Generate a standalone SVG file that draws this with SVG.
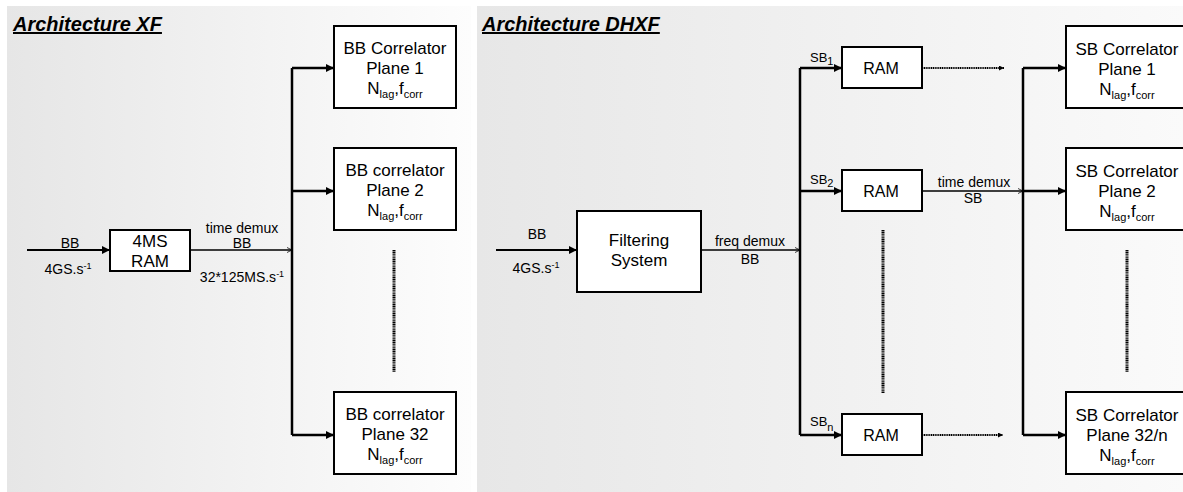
<svg xmlns="http://www.w3.org/2000/svg" width="1183" height="492" viewBox="0 0 1183 492">
<defs>
<linearGradient id="gl" x1="0" y1="0" x2="1" y2="0"><stop offset="0" stop-color="#e6e6e6"/><stop offset="1" stop-color="#fdfdfd"/></linearGradient>
<linearGradient id="gr" x1="0" y1="0" x2="1" y2="0"><stop offset="0" stop-color="#e7e7e7"/><stop offset="1" stop-color="#fafafa"/></linearGradient>
<marker id="ah" viewBox="0 0 10 10" refX="10" refY="5" markerWidth="9" markerHeight="8" markerUnits="userSpaceOnUse" orient="auto"><path d="M0,0 L10,5 L0,10 z" fill="#000"/></marker>
<marker id="ao" viewBox="0 0 10 10" refX="10" refY="5" markerWidth="5" markerHeight="6" markerUnits="userSpaceOnUse" orient="auto"><path d="M0,0 L10,5 L0,10" fill="none" stroke="#000" stroke-width="1.5"/></marker>
<marker id="ad" viewBox="0 0 10 10" refX="10" refY="5" markerWidth="6" markerHeight="5" markerUnits="userSpaceOnUse" orient="auto"><path d="M0,0 L10,5 L0,10 z" fill="#000"/></marker>
</defs>
<style>
text{font-family:"Liberation Sans",Arial,sans-serif;fill:#000}
.title{font-size:20px;font-weight:bold;font-style:italic;text-decoration:underline}
.box{fill:#fff;stroke:#000;stroke-width:2}
.bt{font-size:17px;text-anchor:middle}
.rt{font-size:16px;text-anchor:middle}
.lb{font-size:14px;text-anchor:middle}
.sb{font-size:13px}
.sub{font-size:11px}
.bus{fill:none;stroke:#000;stroke-width:2.5}
.br{fill:none;stroke:#000;stroke-width:2.5;marker-end:url(#ah)}
.in{fill:none;stroke:#000;stroke-width:2;marker-end:url(#ah)}
.out{fill:none;stroke:#000;stroke-width:1.5;marker-end:url(#ao)}
.dv{fill:none;stroke:#000;stroke-width:3;stroke-dasharray:1.2 0.6}
.dh{fill:none;stroke:#000;stroke-width:1.8;stroke-dasharray:1.2 0.6;marker-end:url(#ad)}
</style>
<rect x="7" y="6" width="464" height="486" fill="url(#gl)"/>
<rect x="477" y="6" width="706" height="486" fill="url(#gr)"/>
<text class="title" x="13" y="31">Architecture XF</text>
<text class="title" x="482" y="31">Architecture DHXF</text>

<g id="connectors">
<path class="in" d="M27,250 H110"/>
<path class="out" d="M190,250 H292"/>
<path class="bus" d="M292,68 V435"/>
<path class="br" d="M292,68 H334"/>
<path class="br" d="M292,191 H334"/>
<path class="br" d="M292,435 H334"/>
<path class="dv" d="M394,250 V372"/>
<path class="in" d="M496,250 H577"/>
<path class="out" d="M701,250 H800"/>
<path class="bus" d="M800,68 V435"/>
<path class="br" d="M800,68 H842"/>
<path class="br" d="M800,191 H842"/>
<path class="br" d="M800,435 H842"/>
<path class="dh" d="M922,68 H1004"/>
<path class="out" d="M922,191 H1023"/>
<path class="dh" d="M922,435 H1003"/>
<path class="dv" d="M883,230 V393"/>
<path class="bus" d="M1023,68 V435"/>
<path class="br" d="M1023,68 H1066"/>
<path class="br" d="M1023,191 H1066"/>
<path class="br" d="M1023,435 H1066"/>
<path class="dv" d="M1127,250 V372"/>
</g>

<g id="labels">
<text class="lb" x="70" y="248">BB</text>
<text class="lb" x="68" y="274">4GS.s<tspan dy="-5" font-size="9">-1</tspan></text>
<text class="lb" x="242" y="233">time demux</text>
<text class="lb" x="242" y="248">BB</text>
<text class="lb" x="242" y="282">32*125MS.s<tspan dy="-5" font-size="9">-1</tspan></text>
<text class="lb" x="537" y="239" font-size="13">BB</text>
<text class="lb" x="536" y="273" font-size="13">4GS.s<tspan dy="-5" font-size="9">-1</tspan></text>
<text class="lb" x="750" y="246">freq demux</text>
<text class="lb" x="750" y="264">BB</text>
<text class="lb" x="974" y="187">time demux</text>
<text class="lb" x="973" y="203">SB</text>
<text class="sb" x="810" y="62">SB<tspan class="sub" dy="3">1</tspan></text>
<text class="sb" x="810" y="184">SB<tspan class="sub" dy="3">2</tspan></text>
<text class="sb" x="810" y="426">SB<tspan class="sub" dy="5">n</tspan></text>
</g>

<g id="ram-xf">
<rect class="box" x="110" y="230" width="80" height="41"/>
<text class="bt" x="150" y="247">4MS</text>
<text class="bt" x="150" y="267">RAM</text>
</g>
<g id="bb-plane-1">
<rect class="box" x="334" y="26" width="122" height="82"/>
<text class="bt" x="395" y="54">BB Correlator</text>
<text class="bt" x="395" y="74">Plane 1</text>
<text class="bt" x="395" y="94">N<tspan class="sub" dy="4">lag</tspan><tspan dy="-4">,f</tspan><tspan class="sub" dy="4">corr</tspan></text>
</g>
<g id="bb-plane-2">
<rect class="box" x="334" y="148" width="122" height="82"/>
<text class="bt" x="395" y="176">BB correlator</text>
<text class="bt" x="395" y="196">Plane 2</text>
<text class="bt" x="395" y="216">N<tspan class="sub" dy="4">lag</tspan><tspan dy="-4">,f</tspan><tspan class="sub" dy="4">corr</tspan></text>
</g>
<g id="bb-plane-32">
<rect class="box" x="334" y="392" width="122" height="82"/>
<text class="bt" x="395" y="420">BB correlator</text>
<text class="bt" x="395" y="440">Plane 32</text>
<text class="bt" x="395" y="460">N<tspan class="sub" dy="4">lag</tspan><tspan dy="-4">,f</tspan><tspan class="sub" dy="4">corr</tspan></text>
</g>

<g id="filtering-system">
<rect class="box" x="577" y="211" width="124" height="81"/>
<text class="bt" x="639" y="246">Filtering</text>
<text class="bt" x="639" y="266">System</text>
</g>
<g id="ram-1">
<rect class="box" x="842" y="47" width="80" height="41"/>
<text class="rt" x="881" y="74">RAM</text>
</g>
<g id="ram-2">
<rect class="box" x="842" y="170" width="80" height="41"/>
<text class="rt" x="881" y="197">RAM</text>
</g>
<g id="ram-n">
<rect class="box" x="842" y="414" width="80" height="41"/>
<text class="rt" x="881" y="441">RAM</text>
</g>
<g id="sb-plane-1">
<rect class="box" x="1066" y="26" width="122" height="82"/>
<text class="bt" x="1127" y="55">SB Correlator</text>
<text class="bt" x="1127" y="75">Plane 1</text>
<text class="bt" x="1127" y="95">N<tspan class="sub" dy="4">lag</tspan><tspan dy="-4">,f</tspan><tspan class="sub" dy="4">corr</tspan></text>
</g>
<g id="sb-plane-2">
<rect class="box" x="1066" y="148" width="122" height="82"/>
<text class="bt" x="1127" y="177">SB Correlator</text>
<text class="bt" x="1127" y="197">Plane 2</text>
<text class="bt" x="1127" y="217">N<tspan class="sub" dy="4">lag</tspan><tspan dy="-4">,f</tspan><tspan class="sub" dy="4">corr</tspan></text>
</g>
<g id="sb-plane-32n">
<rect class="box" x="1066" y="392" width="122" height="82"/>
<text class="bt" x="1127" y="421">SB Correlator</text>
<text class="bt" x="1127" y="441">Plane 32/n</text>
<text class="bt" x="1127" y="461">N<tspan class="sub" dy="4">lag</tspan><tspan dy="-4">,f</tspan><tspan class="sub" dy="4">corr</tspan></text>
</g>
</svg>
